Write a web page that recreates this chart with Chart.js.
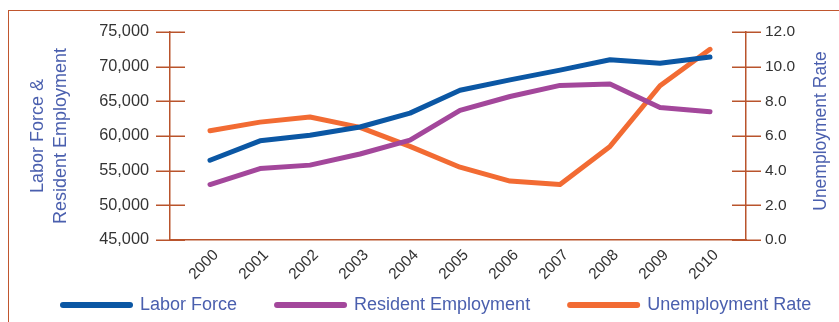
<!DOCTYPE html>
<html>
<head>
<meta charset="utf-8">
<script src="https://cdn.jsdelivr.net/npm/chart.js@4.4.1/dist/chart.umd.min.js"></script>
<style>
  html, body { margin: 0; padding: 0; background: #fff; }
  #wrap { position: relative; width: 839px; height: 322px; overflow: hidden; }
  #frame { position: absolute; left: 8px; top: 10px; right: -4px; bottom: -4px;
           border-top: 1.5px solid #c0562e; border-left: 1.5px solid #c0562e; }
  canvas { position: absolute; left: 0; top: 0; }
</style>
</head>
<body>
<div id="wrap">
  <div id="frame"></div>
  <canvas id="line-chart" width="839" height="322"></canvas>
</div>
<script>
const years = ['2000', '2001', '2002', '2003', '2004', '2005', '2006', '2007', '2008', '2009', '2010'];
const laborForce = [56500, 59300, 60100, 61300, 63300, 66600, 68100, 69500, 71000, 70500, 71400];
const residentEmployment = [53000, 55300, 55800, 57400, 59400, 63700, 65700, 67300, 67500, 64100, 63500];
const unemploymentRate = [6.3, 6.8, 7.1, 6.5, 5.4, 4.2, 3.4, 3.2, 5.4, 8.9, 11.0];
const leftTicks = [45000, 50000, 55000, 60000, 65000, 70000, 75000];
const rightTicks = [0, 2, 4, 6, 8, 10, 12];

const FONT = '"Liberation Sans", Arial, Helvetica, sans-serif';
const AXIS = '#b9542c';
const TITLE_BLUE = '#4a5fae';
const TICK_TEXT = '#333333';

// points go on a linear x axis so the axis can run past the first and last year
const toXY = arr => arr.map((v, i) => ({ x: i, y: v }));

function lineSet(label, data, color, axis) {
  return {
    label: label,
    data: toXY(data),
    yAxisID: axis,
    borderColor: color,
    backgroundColor: color,
    borderWidth: 5,
    borderCapStyle: 'round',
    borderJoinStyle: 'round',
    pointRadius: 0,
    tension: 0,
    fill: false
  };
}

// tick marks that cross the y axis lines
const crossTicks = {
  id: 'crossTicks',
  afterDraw(chart) {
    const ctx = chart.ctx;
    ctx.save();
    ctx.strokeStyle = AXIS;
    ctx.lineWidth = 1.5;
    [['yL', 'right'], ['yR', 'left']].forEach(([id, side]) => {
      const s = chart.scales[id];
      const ax = s[side];
      s.ticks.forEach(t => {
        const y = Math.round(s.getPixelForValue(t.value)) + 0.25;
        ctx.beginPath();
        ctx.moveTo(ax - 14, y);
        ctx.lineTo(ax + 15, y);
        ctx.stroke();
      });
    });
    ctx.restore();
  }
};

// right axis title reads bottom-to-top, like the left one
const rightTitle = {
  id: 'rightTitle',
  afterDraw(chart) {
    const ctx = chart.ctx;
    const s = chart.scales.yR;
    ctx.save();
    ctx.translate(821, (s.top + s.bottom) / 2 - 5);
    ctx.rotate(-Math.PI / 2);
    ctx.font = '17.5px ' + FONT;
    ctx.fillStyle = TITLE_BLUE;
    ctx.textAlign = 'center';
    ctx.textBaseline = 'middle';
    ctx.fillText('Unemployment Rate', 0, 0);
    ctx.restore();
  }
};

// legend row along the bottom
const bottomLegend = {
  id: 'bottomLegend',
  afterDraw(chart) {
    const ctx = chart.ctx;
    let x = 60;
    const y = 305;
    ctx.save();
    ctx.font = '18px ' + FONT;
    ctx.textBaseline = 'middle';
    chart.data.datasets.forEach(ds => {
      ctx.strokeStyle = ds.borderColor;
      ctx.lineWidth = 6;
      ctx.lineCap = 'round';
      ctx.beginPath();
      ctx.moveTo(x + 3, y);
      ctx.lineTo(x + 70, y);
      ctx.stroke();
      ctx.fillStyle = TITLE_BLUE;
      ctx.fillText(ds.label, x + 80, y);
      x += 80 + ctx.measureText(ds.label).width + 37;
    });
    ctx.restore();
  }
};

const data = {
  datasets: [
    lineSet('Labor Force', laborForce, '#0b57a4', 'yL'),
    lineSet('Resident Employment', residentEmployment, '#a3479b', 'yL'),
    lineSet('Unemployment Rate', unemploymentRate, '#f26b33', 'yR')
  ]
};

const config = {
  type: 'line',
  data: data,
  options: {
    responsive: false,
    animation: false,
    events: [],
    layout: { padding: { top: 32, left: 0, right: 0, bottom: 0 } },
    plugins: {
      legend: { display: false },
      tooltip: { enabled: false }
    },
    scales: {
      x: {
        type: 'linear',
        position: 'bottom',
        min: -0.8,
        max: 10.72,
        afterBuildTicks: s => { s.ticks = years.map((y, i) => ({ value: i })); },
        afterFit: s => { s.height = 82; },
        grid: { display: false, drawTicks: false },
        border: { display: true, color: AXIS, width: 1.5 },
        ticks: {
          autoSkip: false,
          minRotation: 45,
          maxRotation: 45,
          padding: 6,
          labelOffset: 6,
          color: TICK_TEXT,
          font: { family: FONT, size: 15.5 },
          callback: v => years[v]
        }
      },
      yL: {
        position: 'left',
        min: 45000,
        max: 75000,
        afterBuildTicks: s => { s.ticks = leftTicks.map(v => ({ value: v })); },
        afterFit: s => { s.width = 170; },
        grid: { display: false, drawTicks: false },
        border: { display: true, color: AXIS, width: 1.5 },
        ticks: {
          padding: 21,
          color: TICK_TEXT,
          font: { family: FONT, size: 16.3 },
          callback: v => v.toLocaleString('en-US')
        },
        title: {
          display: true,
          text: ['Labor Force &', 'Resident Employment'],
          color: TITLE_BLUE,
          font: { family: FONT, size: 18, lineHeight: 1.3 },
          padding: { top: 26, bottom: 0 }
        }
      },
      yR: {
        position: 'right',
        min: 0,
        max: 12,
        afterBuildTicks: s => { s.ticks = rightTicks.map(v => ({ value: v })); },
        afterFit: s => { s.width = 93; },
        grid: { display: false, drawTicks: false },
        border: { display: true, color: AXIS, width: 1.5 },
        ticks: {
          padding: 19,
          color: TICK_TEXT,
          font: { family: FONT, size: 15.5 },
          callback: v => v.toFixed(1)
        }
      }
    }
  },
  plugins: [crossTicks, rightTitle, bottomLegend]
};

const myChart = new Chart(document.getElementById('line-chart'), config);
</script>
</body>
</html>
